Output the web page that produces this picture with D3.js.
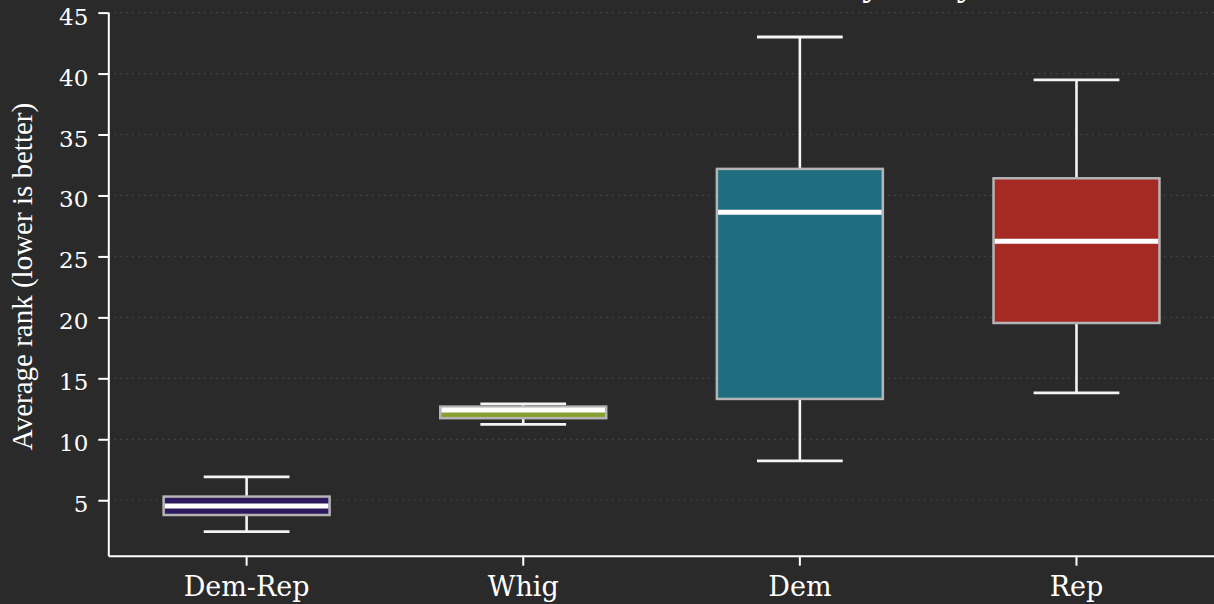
<!DOCTYPE html>
<html><head><meta charset="utf-8">
<script src="https://cdn.jsdelivr.net/npm/d3@7"></script>
<style>
html,body{margin:0;padding:0;background:#2a2a2a;}
svg{display:block;}
</style></head>
<body>
<svg id="chart" width="1214" height="604"></svg>
<script>
const parties = ["Dem-Rep", "Whig", "Dem", "Rep"];
const whiskerLow = [2.42, 11.23, 8.23, 13.80];
const q1 = [3.79, 11.73, 13.31, 19.54];
const median = [4.53, 12.40, 28.63, 26.25];
const q3 = [5.30, 12.68, 32.18, 31.41];
const whiskerHigh = [6.91, 12.90, 43.00, 39.48];
const colors = ["#2d1a5e", "#87a032", "#1f6e80", "#a52a24"];
const yTicks = [5, 10, 15, 20, 25, 30, 35, 40, 45];
const titleText = "Presidential Rank Distribution by Party";
const yLabel = "Average rank (lower is better)";

const W = 1214, H = 604;
const m = {left: 108.3, top: 12, bottom: 555.7, right: 1214.8};
const font = "'DejaVu Serif', 'Liberation Serif', serif";
const labelFont = "'Liberation Serif', serif";
const svg = d3.select("#chart");
svg.append("rect").attr("width", W).attr("height", H).attr("fill", "#2a2a2a");

const x = d3.scaleBand().domain(parties).range([m.left, m.right]).paddingInner(0).paddingOuter(0);
const y = d3.scaleLinear().domain([0.45, 45.05]).range([m.bottom, m.top]);

// grid
svg.append("g").selectAll("line").data(yTicks).join("line")
  .attr("x1", m.left).attr("x2", W)
  .attr("y1", d => y(d)).attr("y2", d => y(d))
  .attr("stroke", "#4a4a4a").attr("stroke-width", 1.2)
  .attr("stroke-dasharray", "1.5,4.5");

const data = parties.map((p, i) => ({p, lo: whiskerLow[i], q1: q1[i], med: median[i], q3: q3[i], hi: whiskerHigh[i], c: colors[i]}));
const bw = x.bandwidth() * 0.6;
const cw = x.bandwidth() * 0.31;
const g = svg.append("g").selectAll("g").data(data).join("g")
  .attr("transform", d => `translate(${x(d.p) + x.bandwidth() / 2},0)`);

const wcol = "#f4f4f4";
// whiskers
g.append("line").attr("x1", 0).attr("x2", 0).attr("y1", d => y(d.q3)).attr("y2", d => y(d.hi))
  .attr("stroke", wcol).attr("stroke-width", 2.6);
g.append("line").attr("x1", 0).attr("x2", 0).attr("y1", d => y(d.q1)).attr("y2", d => y(d.lo))
  .attr("stroke", wcol).attr("stroke-width", 2.6);
g.append("line").attr("x1", -cw / 2).attr("x2", cw / 2).attr("y1", d => y(d.hi)).attr("y2", d => y(d.hi))
  .attr("stroke", wcol).attr("stroke-width", 2.8);
g.append("line").attr("x1", -cw / 2).attr("x2", cw / 2).attr("y1", d => y(d.lo)).attr("y2", d => y(d.lo))
  .attr("stroke", wcol).attr("stroke-width", 2.8);
// boxes
g.append("rect").attr("x", -bw / 2).attr("width", bw)
  .attr("y", d => y(d.q3)).attr("height", d => y(d.q1) - y(d.q3))
  .attr("fill", d => d.c).attr("stroke", "#b4b4b4").attr("stroke-width", 2.5);
// medians
g.append("line").attr("x1", -bw / 2 + 1.2).attr("x2", bw / 2 - 1.2).attr("y1", d => y(d.med)).attr("y2", d => y(d.med))
  .attr("stroke", "#ffffff").attr("stroke-width", 5);

// axes
const yAxis = d3.axisLeft(y).tickValues(yTicks).tickSize(10).tickSizeOuter(0).tickPadding(10).tickFormat(d3.format("d"));
const ya = svg.append("g").attr("transform", `translate(${m.left},0)`).call(yAxis);
ya.select(".domain").attr("stroke", "#ffffff").attr("stroke-width", 2);
ya.selectAll(".tick line").attr("stroke", "#ffffff").attr("stroke-width", 2);
ya.selectAll(".tick text").attr("fill", "#ffffff").attr("dy", "0.5em")
  .style("font-family", font).style("font-size", "23px");

const xAxis = d3.axisBottom(x).tickSize(10).tickSizeOuter(0).tickPadding(11);
const xa = svg.append("g").attr("transform", `translate(0,${m.bottom})`).call(xAxis);
xa.select(".domain").attr("stroke", "#ffffff").attr("stroke-width", 2);
xa.selectAll(".tick line").attr("stroke", "#ffffff").attr("stroke-width", 2);
xa.selectAll(".tick text").attr("fill", "#ffffff").style("font-family", font).style("font-size", "27px");

// y label
svg.append("text").attr("transform", `translate(32,${(100 + 453) / 2}) rotate(-90)`)
  .attr("text-anchor", "middle").attr("fill", "#ffffff")
  .style("font-family", labelFont).style("font-size", "29px").text(yLabel);

// title (mostly above the visible area, as in reference)
svg.append("text").attr("x", (m.left + W) / 2).attr("y", -6)
  .attr("text-anchor", "middle").attr("fill", "#ffffff")
  .style("font-family", labelFont).style("font-size", "40px").text(titleText);
</script>
</body></html>
